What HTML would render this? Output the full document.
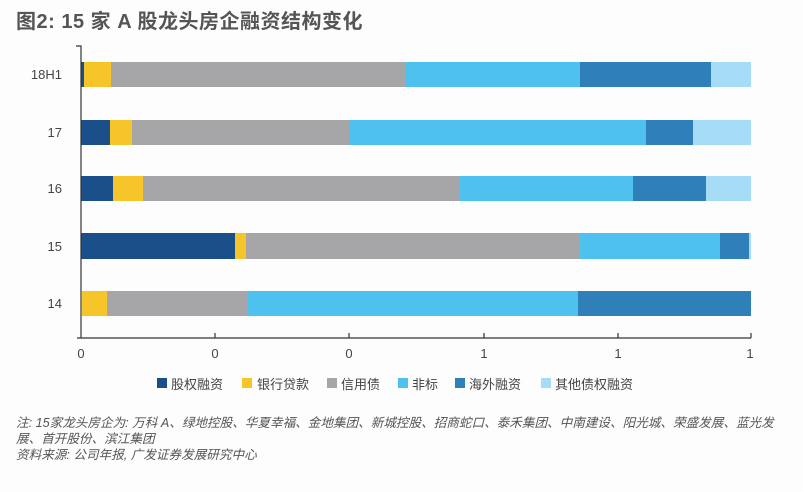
<!DOCTYPE html><html><head><meta charset="utf-8"><style>
body{margin:0;width:803px;height:492px;background:#fdfdfd;font-family:"Liberation Sans","Noto Sans CJK SC",sans-serif;position:relative;overflow:hidden}
.a{position:absolute}
</style></head><body>
<div class="a" style="left:16px;top:5px;font-size:20px;font-weight:bold;color:#555;letter-spacing:0.5px">图2: 15 家 A 股龙头房企融资结构变化</div>
<svg class="a" style="left:0;top:0" width="803" height="492">
<g font-size="13" fill="#444" text-anchor="end" font-family="Liberation Sans">
<text x="62" y="79">18H1</text><text x="62" y="137">17</text><text x="62" y="193">16</text><text x="62" y="251">15</text><text x="62" y="308">14</text></g>
<g>
<rect x="81" y="62" width="3" height="25" fill="#1a4f8a"/><rect x="84" y="62" width="27" height="25" fill="#f5c52a"/><rect x="111" y="62" width="295" height="25" fill="#a6a6a8"/><rect x="406" y="62" width="174" height="25" fill="#4fc1ef"/><rect x="580" y="62" width="131" height="25" fill="#2f80b8"/><rect x="711" y="62" width="40" height="25" fill="#a6dcf5"/>
<rect x="81" y="120" width="29" height="25" fill="#1a4f8a"/><rect x="110" y="120" width="22" height="25" fill="#f5c52a"/><rect x="132" y="120" width="217" height="25" fill="#a6a6a8"/><rect x="349" y="120" width="297" height="25" fill="#4fc1ef"/><rect x="646" y="120" width="47" height="25" fill="#2f80b8"/><rect x="693" y="120" width="58" height="25" fill="#a6dcf5"/>
<rect x="81" y="176" width="32" height="25" fill="#1a4f8a"/><rect x="113" y="176" width="30" height="25" fill="#f5c52a"/><rect x="143" y="176" width="316" height="25" fill="#a6a6a8"/><rect x="459" y="176" width="174" height="25" fill="#4fc1ef"/><rect x="633" y="176" width="73" height="25" fill="#2f80b8"/><rect x="706" y="176" width="45" height="25" fill="#a6dcf5"/>
<rect x="81" y="233" width="154" height="26" fill="#1a4f8a"/><rect x="235" y="233" width="11" height="26" fill="#f5c52a"/><rect x="246" y="233" width="334" height="26" fill="#a6a6a8"/><rect x="580" y="233" width="140" height="26" fill="#4fc1ef"/><rect x="720" y="233" width="29" height="26" fill="#2f80b8"/><rect x="749" y="233" width="2" height="26" fill="#a6dcf5"/>
<rect x="82" y="291" width="25" height="25" fill="#f5c52a"/><rect x="107" y="291" width="141" height="25" fill="#a6a6a8"/><rect x="248" y="291" width="330" height="25" fill="#4fc1ef"/><rect x="578" y="291" width="173" height="25" fill="#2f80b8"/>
</g>
<path d="M76 46H81V338M77 338H751M215 338V333M349 338V333M484 338V333M618 338V333M751 338V333" stroke="#333" fill="none" stroke-width="1.2"/>
<g font-size="13" fill="#444" text-anchor="middle" font-family="Liberation Sans">
<text x="81" y="358">0</text><text x="215" y="358">0</text><text x="349" y="358">0</text><text x="484" y="358">1</text><text x="618" y="358">1</text><text x="750" y="358">1</text></g>
<g font-size="13" fill="#444" font-family="Liberation Sans,Noto Sans CJK SC,sans-serif">
<rect x="157" y="378" width="10" height="10" fill="#1a4f8a"/><text x="171" y="389">股权融资</text>
<rect x="242" y="378" width="10" height="10" fill="#f5c52a"/><text x="257" y="389">银行贷款</text>
<rect x="327" y="378" width="10" height="10" fill="#a6a6a8"/><text x="341" y="389">信用债</text>
<rect x="398" y="378" width="10" height="10" fill="#4fc1ef"/><text x="412" y="389">非标</text>
<rect x="455" y="378" width="10" height="10" fill="#2f80b8"/><text x="469" y="389">海外融资</text>
<rect x="541" y="378" width="10" height="10" fill="#a6dcf5"/><text x="555" y="389">其他债权融资</text>
</g>
<g font-size="12.6" fill="#555" font-style="italic" font-family="Liberation Sans,Noto Sans CJK SC,sans-serif">
<text x="16" y="427">注: 15家龙头房企为: 万科 A、绿地控股、华夏幸福、金地集团、新城控股、招商蛇口、泰禾集团、中南建设、阳光城、荣盛发展、蓝光发</text>
<text x="16" y="443">展、首开股份、滨江集团</text>
<text x="16" y="459">资料来源: 公司年报, 广发证券发展研究中心</text>
</g>
</svg>
</body></html>
